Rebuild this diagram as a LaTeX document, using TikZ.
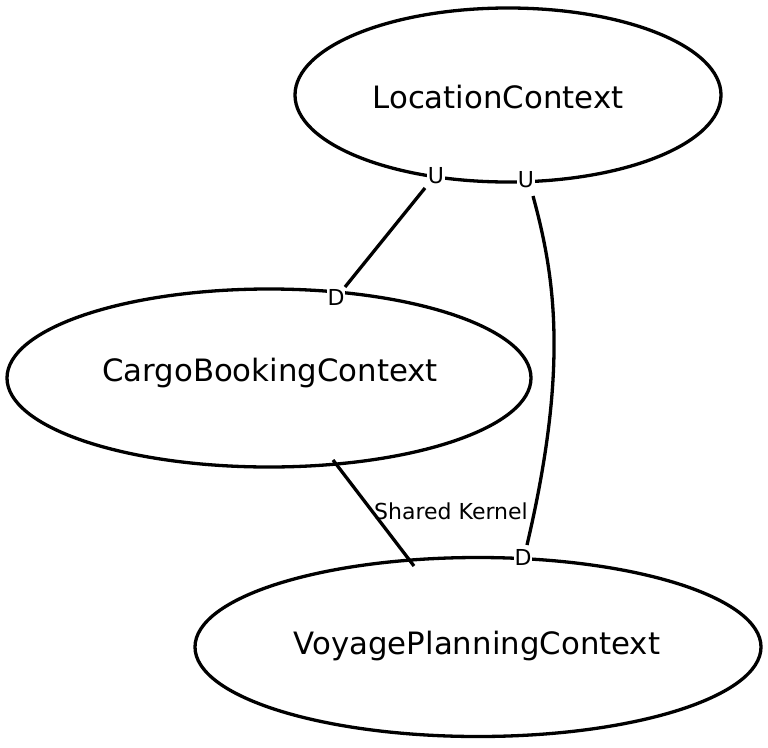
\documentclass[tikz,border=0pt]{standalone}
\usepackage{fontspec}
\setmainfont{DejaVu Sans}
\usetikzlibrary{shapes.geometric}
\begin{document}
\begin{tikzpicture}[x=1pt,y=-1pt,
  ctx/.style={draw,line width=3.3pt,ellipse,inner sep=0pt},
  txt/.style={inner sep=0pt,font=\fontsize{30.8}{33}\selectfont},
  edge/.style={line width=3.3pt},
  lab/.style={fill=white,inner sep=1pt,font=\fontsize{22}{24}\selectfont}]
\useasboundingbox (0,0) rectangle (768,747);
\node[ctx,minimum width=426pt,minimum height=174pt] (loc) at (508,95) {};
\node[ctx,minimum width=524pt,minimum height=178pt] (cargo) at (269,378) {};
\node[ctx,minimum width=566pt,minimum height=179pt] (voy) at (478,647) {};
\node[txt] (loct) at (498,97) {LocationContext};
\node[txt] (cargot) at (270,373) {CargoBookingContext};
\node[txt] (voyt) at (477,646) {VoyagePlanningContext};
\coordinate (a1) at (425,188);
\coordinate (a2) at (345,287);
\coordinate (b1) at (533,196);
\coordinate (b2) at (527,545);
\coordinate (c1) at (333,460);
\coordinate (c2) at (414,566);
\draw[edge] (a1) -- (a2);
\draw[edge] (b1) .. controls (556,280) and (568,370) .. (b2);
\draw[edge] (c1) -- (c2);
\node[lab] (u1) at (436,176) {U};
\node[lab] (d1) at (336,297) {D};
\node[lab] (u2) at (526,180) {U};
\node[lab] (d2) at (523,557) {D};
\node[lab,fill=none] (sk) at (451,511) {Shared Kernel};
\end{tikzpicture}
\end{document}
